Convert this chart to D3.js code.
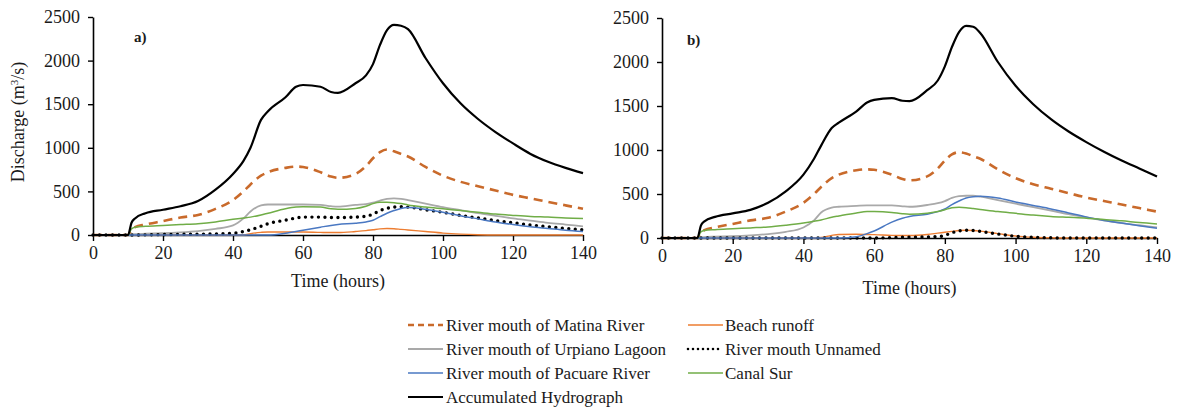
<!DOCTYPE html>
<html><head><meta charset="utf-8">
<script src="https://cdn.jsdelivr.net/npm/d3@7"></script>
<style>
html,body{margin:0;padding:0;background:#fff;}
</style>
</head><body>
<svg id="chart" width="1179" height="415"></svg>
<script>
const FONT = "'Liberation Serif', 'Times New Roman', 'DejaVu Serif', serif";
const hours = [0,10,11,12,15,20,25,30,35,40,43,45,48,50,55,58,60,65,68,70,75,78,80,82,84,86,88,90,95,100,105,110,115,120,125,130,135,140];
const xTicks = [0,20,40,60,80,100,120,140];
const yTicks = [0,500,1000,1500,2000,2500];

// Panel a
const matinaA   = [0,0,60,90,120,160,200,230,300,400,500,580,680,720,770,785,780,720,670,655,700,790,880,950,980,960,930,900,780,680,610,560,510,460,420,380,340,300];
const beachA    = [0,0,0,0,0,0,0,0,0,0,0,15,30,35,35,35,35,30,28,28,40,50,60,70,75,72,65,58,40,22,10,3,0,0,0,0,0,0];
const urpianoA  = [0,0,5,10,15,20,30,45,70,110,190,270,340,350,350,350,350,345,330,325,345,355,370,395,415,420,415,400,360,320,285,250,220,190,165,140,120,100];
const unnamedA  = [0,0,0,0,2,5,8,10,12,20,40,60,100,130,170,195,205,205,200,200,205,215,240,280,305,320,325,320,290,260,225,195,165,140,115,95,75,60];
const pacuareA  = [0,0,0,0,0,0,0,0,0,0,0,0,0,0,20,40,55,90,110,120,135,150,170,210,250,280,305,315,295,260,220,185,150,120,95,75,55,40];
const canalA    = [0,0,70,90,100,110,120,130,150,180,195,205,230,250,300,320,325,320,300,295,305,330,360,375,375,370,360,345,320,300,280,260,240,225,212,205,195,190];
const accumA    = [0,0,140,190,250,290,330,390,520,700,850,1000,1320,1420,1580,1700,1720,1700,1640,1630,1740,1830,1960,2180,2350,2410,2400,2360,2030,1740,1510,1330,1180,1050,930,840,770,710];

// Panel b
const matinaB   = [0,0,60,90,120,160,200,230,300,400,500,580,680,720,770,780,775,720,670,655,700,790,880,950,975,960,930,900,780,680,610,560,510,460,420,380,340,300];
const beachB    = [0,0,0,0,0,0,0,0,0,0,0,5,30,40,42,40,38,30,28,28,40,55,65,75,85,88,85,78,50,22,8,2,0,0,0,0,0,0];
const urpianoB  = [0,0,5,10,15,20,30,45,70,120,200,290,345,355,365,370,370,370,360,355,375,395,420,455,475,480,480,470,430,390,350,310,270,235,200,170,145,120];
const unnamedB  = [0,0,0,0,0,0,0,0,0,0,0,0,0,0,0,0,0,5,10,10,12,15,30,60,80,88,85,75,45,20,8,2,0,0,0,0,0,0];
const pacuareB  = [0,0,0,0,0,0,0,0,0,0,0,0,0,0,15,50,80,180,225,245,270,300,330,380,420,455,470,475,455,410,370,330,285,240,200,170,140,110];
const canalB    = [0,0,70,85,95,105,115,125,145,170,190,205,235,250,285,300,300,290,275,270,280,300,320,345,350,345,335,325,300,280,260,245,235,225,210,195,175,160];
const accumB    = [0,0,140,190,240,280,320,400,530,720,900,1050,1250,1310,1440,1540,1570,1590,1560,1555,1680,1790,1950,2170,2340,2410,2400,2330,2000,1730,1520,1350,1210,1090,980,880,790,700];

const seriesNames = ["River mouth of Matina River","Beach runoff","River mouth of Urpiano Lagoon","River mouth Unnamed","River mouth of Pacuare River","Canal Sur","Accumulated Hydrograph"];

const styles = [
  {color:"#C96A2B", width:2.6, dash:"9,6", cap:"butt"},
  {color:"#ED7D31", width:1.4, dash:null, cap:"butt"},
  {color:"#A9A9A9", width:1.8, dash:null, cap:"butt"},
  {color:"#000000", width:3.4, dash:"0,6.5", cap:"round"},
  {color:"#4A78C2", width:1.5, dash:null, cap:"butt"},
  {color:"#70AD47", width:1.5, dash:null, cap:"butt"},
  {color:"#000000", width:2.2, dash:null, cap:"butt"}
];

const svg = d3.select("#chart");

function panel(cfg, data, label){
  const x = d3.scaleLinear().domain([0,140]).range([cfg.x0, cfg.x1]);
  const y = d3.scaleLinear().domain([0,2500]).range([cfg.y0, cfg.y1]);
  const g = svg.append("g");

  const line = d3.line().x((d,i)=>x(hours[i])).y(d=>y(d)).curve(d3.curveMonotoneX);

  const xa = g.append("g").attr("transform",`translate(0,${cfg.y0})`)
    .call(d3.axisBottom(x).tickValues(xTicks).tickFormat(d3.format("d")).tickSize(6).tickSizeOuter(0).tickPadding(5));
  xa.attr("font-family",FONT).attr("font-size",18);
  xa.selectAll("text").attr("fill","#1a1a1a").style("font-family",FONT).style("font-size","18px");
  xa.select(".domain").attr("stroke","#000").attr("stroke-width",1.6);
  xa.selectAll(".tick line").attr("stroke","#000").attr("stroke-width",1.4);

  const ya = g.append("g").attr("transform",`translate(${cfg.x0},0)`)
    .call(d3.axisLeft(y).tickValues(yTicks).tickFormat(d3.format("d")).tickSize(5).tickSizeOuter(0).tickPadding(8));
  ya.attr("font-family",FONT).attr("font-size",18);
  ya.selectAll("text").attr("fill","#1a1a1a").style("font-family",FONT).style("font-size","18px");
  ya.select(".domain").attr("stroke","#000").attr("stroke-width",1.6);
  ya.selectAll(".tick line").attr("stroke","#000").attr("stroke-width",1.4);

  data.forEach((s,k)=>{
    const st = styles[k];
    g.append("path").datum(s).attr("d",line)
      .attr("fill","none").attr("stroke",st.color).attr("stroke-width",st.width)
      .attr("stroke-dasharray",st.dash).attr("stroke-linecap",st.cap).attr("stroke-linejoin","round");
  });

  g.append("text").attr("x",cfg.lx).attr("y",cfg.ly).text(label)
    .style("font-family",FONT).style("font-size","15px").style("font-weight","bold").attr("fill","#1a1a1a");

  g.append("text").attr("x",(cfg.x0+cfg.x1)/2).attr("y",cfg.ty).attr("text-anchor","middle")
    .text("Time (hours)").style("font-family",FONT).style("font-size","18px").attr("fill","#1a1a1a");
}

panel({x0:93,x1:583,y0:235,y1:17,lx:134,ly:42,ty:287},[matinaA,beachA,urpianoA,unnamedA,pacuareA,canalA,accumA],"a)");
panel({x0:662,x1:1157,y0:238,y1:18,lx:687,ly:45,ty:294},[matinaB,beachB,urpianoB,unnamedB,pacuareB,canalB,accumB],"b)");

// y axis title
const yt = svg.append("text").attr("transform","translate(24,122) rotate(-90)").attr("text-anchor","middle")
  .style("font-family",FONT).style("font-size","18px").attr("fill","#1a1a1a");
yt.append("tspan").text("Discharge (m");
yt.append("tspan").attr("dy",-6).style("font-size","11px").text("3");
yt.append("tspan").attr("dy",6).text("/s)");

// legend
const legendPos = [
  {lx:408, tx:446, ty:325},
  {lx:688, tx:725, ty:325},
  {lx:408, tx:446, ty:349},
  {lx:688, tx:725, ty:349},
  {lx:408, tx:446, ty:373},
  {lx:688, tx:725, ty:373},
  {lx:408, tx:446, ty:397}
];
seriesNames.forEach((n,k)=>{
  const p = legendPos[k], st = styles[k];
  svg.append("line").attr("x1",p.lx).attr("x2",p.lx+35).attr("y1",p.ty).attr("y2",p.ty)
    .attr("stroke",st.color).attr("stroke-width",k===3?2.6:st.width)
    .attr("stroke-dasharray",k===0?"6,4":(k===3?"0,5":null)).attr("stroke-linecap",st.cap);
  svg.append("text").attr("x",p.tx).attr("y",p.ty+6).text(n)
    .style("font-family",FONT).style("font-size","17px").attr("fill","#1a1a1a");
});
</script>
</body></html>
